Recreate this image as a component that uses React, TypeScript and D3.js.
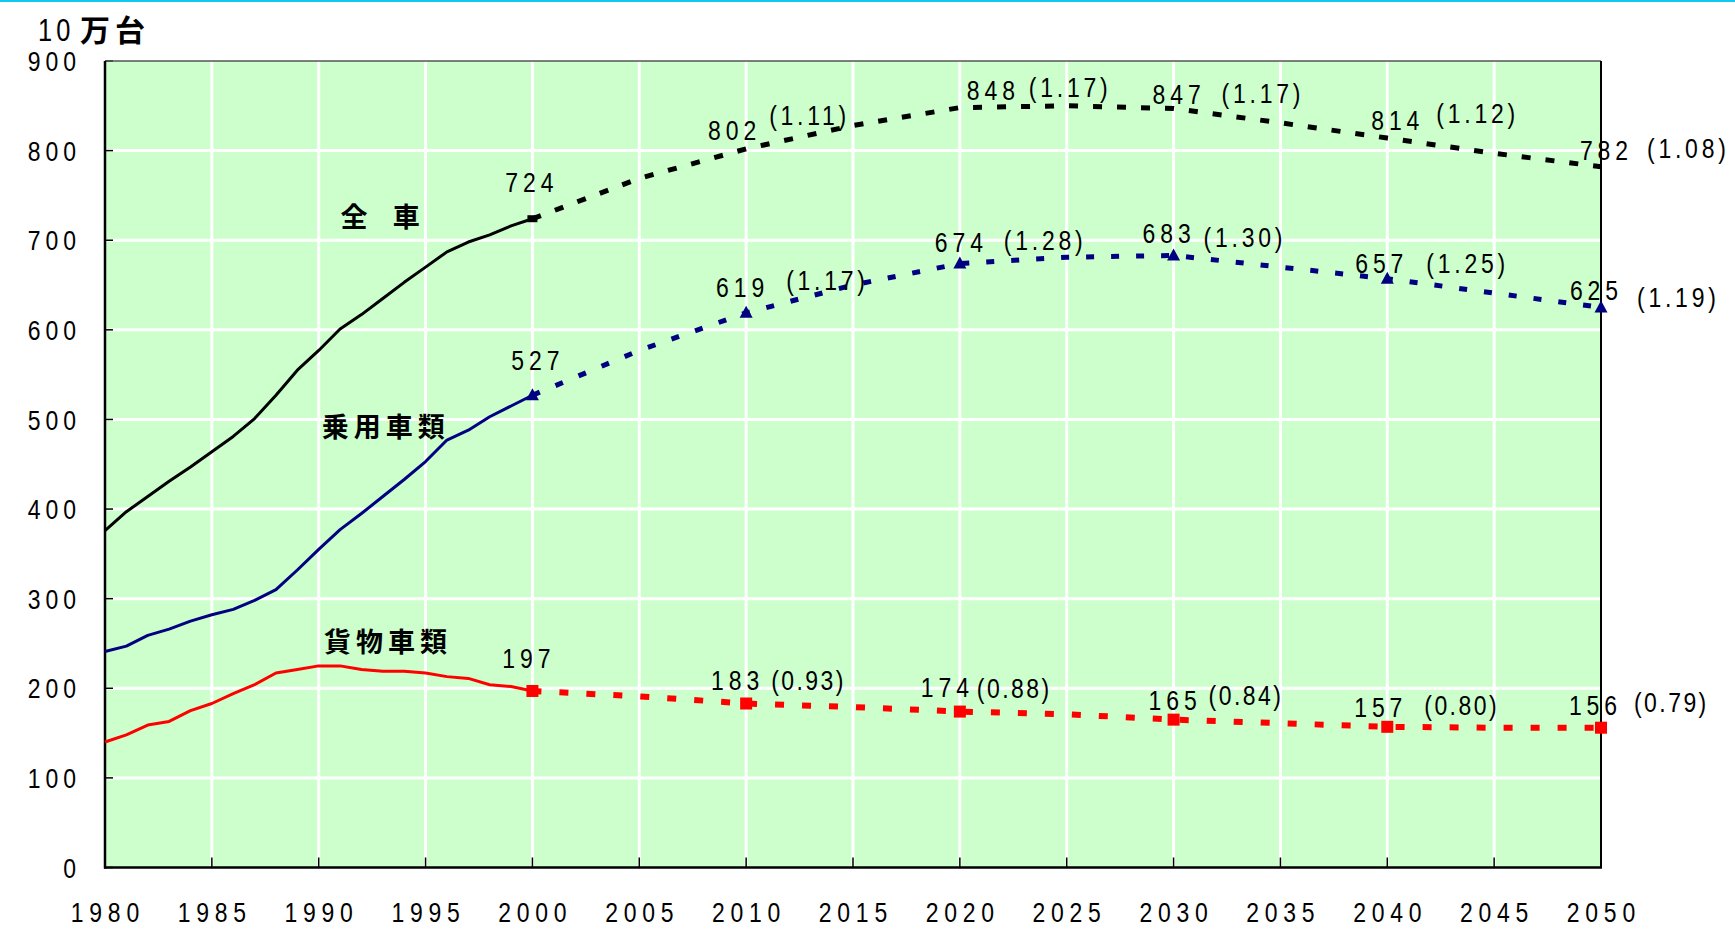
import React from 'react';
import * as d3 from 'd3';

// history (annual) 1980-2000
const histYears = d3.range(1980, 2001);
const totalHist = [376, 397, 414, 431, 447, 464, 481, 501, 527, 555, 577, 601, 617, 635, 653, 670, 687, 698, 706, 716, 724];
const passHist = [241, 247, 259, 266, 275, 282, 288, 298, 310, 332, 355, 377, 395, 414, 433, 453, 477, 488, 503, 515, 527];
const freightHist = [140, 148, 159, 163, 175, 183, 194, 204, 217, 221, 225, 225, 221, 219, 219, 217, 213, 211, 204, 202, 197];

// forecast 2000-2050
const fcYears = [2000, 2005, 2010, 2015, 2020, 2025, 2030, 2035, 2040, 2045, 2050];
const totalFc = [724, 769, 802, 828, 848, 850, 847, 831, 814, 797, 782];
const passFc = [527, 577, 619, 650, 674, 681, 683, 670, 657, 641, 625];
const freightFc = [197, 191, 183, 179, 174, 171, 165, 161, 157, 156, 156];

// labelled points
const labelYears = [2000, 2010, 2020, 2030, 2040, 2050];
const totalRatio = ['', '(1.11)', '(1.17)', '(1.17)', '(1.12)', '(1.08)'];
const passRatio = ['', '(1.17)', '(1.28)', '(1.30)', '(1.25)', '(1.19)'];
const freightRatio = ['', '(0.93)', '(0.88)', '(0.84)', '(0.80)', '(0.79)'];

const yTicks = [0, 100, 200, 300, 400, 500, 600, 700, 800, 900];
const xTicks = d3.range(1980, 2051, 5);

// annotation nudges [numDx, numDy, ratioDx, ratioDy] relative to point
const totalNudge = [[-3, -27, 0, 0], [-14, -9, 23, -24], [31, -8, 69, -11], [3, -4, 48, -5], [8, -8, 49, -15], [3, -7, 46, -9]];
const passNudge = [[3, -25, 0, 0], [-6, -16, 40, -23], [-1, -12, 44, -14], [-7, -12, 30, -8], [-8, -6, 39, -6], [-7, -7, 36, 0]];
const freightNudge = [[-6, -23, 0, 0], [-11, -14, 25, -14], [-15, -15, 17, -14], [-1, -10, 35, -15], [-9, -10, 37, -12], [-8, -13, 33, -16]];

const W = 1735;
const H = 930;
const NUM_FONT = "'Liberation Sans', Arial, sans-serif";
const CJK_FONT = "'Noto Sans CJK JP', 'Noto Sans CJK SC', sans-serif";
const SQUEEZE = 0.82; // the original digits are condensed

const BLACK = '#000000';
const NAVY = '#000080';
const RED = '#ff0000';

type NTProps = { x: number; y: number; anchor?: 'start' | 'middle' | 'end'; ls: number; size?: number; dy?: string; children: React.ReactNode };

// condensed number text; letter-spacing trail compensated for anchors
const NT = ({ x, y, anchor = 'start', ls, size = 28, dy, children }: NTProps) => {
  const trail = ls * SQUEEZE;
  const tx = anchor === 'middle' ? x + trail / 2 : anchor === 'end' ? x + trail : x;
  return (
    <text transform={`translate(${tx},${y}) scale(${SQUEEZE},1)`} textAnchor={anchor} fontFamily={NUM_FONT} fontSize={size} letterSpacing={ls} dy={dy}>
      {children}
    </text>
  );
};

export default function App() {
  const x = d3.scaleLinear().domain([1980, 2050]).range([105, 1601]);
  const y = d3.scaleLinear().domain([0, 900]).range([867.5, 61]);

  const line = d3.line<[number, number]>().x(d => x(d[0])).y(d => y(d[1]));
  const zip = (xs: number[], vs: number[]) => xs.map((t, i) => [t, vs[i]] as [number, number]);

  const series = [
    { hist: totalHist, fc: totalFc, color: BLACK, ratio: totalRatio, nudge: totalNudge, dash: '9 15', fw: 5 },
    { hist: passHist, fc: passFc, color: NAVY, ratio: passRatio, nudge: passNudge, dash: '8 17', fw: 5 },
    { hist: freightHist, fc: freightFc, color: RED, ratio: freightRatio, nudge: freightNudge, dash: '9 18', fw: 6 },
  ];

  const valAt = (s: typeof series[0], yr: number) => s.fc[fcYears.indexOf(yr)];

  return (
    <svg width={W} height={H} style={{ position: 'absolute', left: 0, top: 0, background: '#fff' }}>
      <rect x={0} y={0} width={W} height={2} fill="#10c8f0" />

      {/* plot area */}
      <rect x={x(1980)} y={y(900)} width={x(2050) - x(1980)} height={y(0) - y(900)} fill="#ccffcc" />
      {yTicks.slice(1, -1).map(t => (
        <line key={'gy' + t} x1={x(1980)} x2={x(2050)} y1={y(t)} y2={y(t)} stroke="#fff" strokeWidth={3} />
      ))}
      {xTicks.slice(1, -1).map(t => (
        <line key={'gx' + t} x1={x(t)} x2={x(t)} y1={y(900)} y2={y(0)} stroke="#fff" strokeWidth={3} />
      ))}

      {/* ticks (inside) */}
      {yTicks.map(t => (
        <line key={'ty' + t} x1={x(1980)} x2={x(1980) + 8} y1={y(t)} y2={y(t)} stroke="#000" strokeWidth={1.5} />
      ))}
      {xTicks.map(t => (
        <line key={'tx' + t} x1={x(t)} x2={x(t)} y1={y(0)} y2={y(0) - 10} stroke="#000" strokeWidth={1.5} />
      ))}

      {/* frame */}
      <line x1={x(1980)} x2={x(2050)} y1={y(900)} y2={y(900)} stroke="#555" strokeWidth={1.5} />
      <line x1={x(2050)} x2={x(2050)} y1={y(900)} y2={y(0)} stroke="#000" strokeWidth={2} />
      <line x1={x(1980)} x2={x(1980)} y1={y(900)} y2={y(0) + 1} stroke="#000" strokeWidth={2.5} />
      <line x1={x(1980) - 1} x2={x(2050) + 1} y1={y(0)} y2={y(0)} stroke="#000" strokeWidth={2.5} />

      {/* axis labels */}
      {yTicks.map(t => (
        <NT key={'ly' + t} x={76} y={y(t)} dy="0.36em" anchor="end" ls={6}>{t}</NT>
      ))}
      {xTicks.map(t => (
        <NT key={'lx' + t} x={x(t)} y={922} anchor="middle" ls={7}>{t}</NT>
      ))}

      {/* unit */}
      <NT x={38} y={41} ls={5} size={31}>10</NT>
      <text x={80} y={41} fontFamily={CJK_FONT} fontWeight={700} fontSize={30} letterSpacing={5}>万台</text>

      {/* lines */}
      {series.map((s, i) => (
        <g key={'s' + i}>
          <path d={line(zip(histYears, s.hist)) || ''} fill="none" stroke={s.color} strokeWidth={3} strokeLinejoin="round" />
          <path d={line(zip(fcYears, s.fc)) || ''} fill="none" stroke={s.color} strokeWidth={s.fw} strokeDasharray={s.dash} />
        </g>
      ))}

      {/* markers */}
      <rect x={x(2000) - 5} y={y(724) - 3.5} width={10} height={7} fill={BLACK} />
      {labelYears.map(yr => {
        const px = x(yr);
        const py = y(valAt(series[1], yr));
        return <path key={'tri' + yr} d={`M${px},${py - 7}L${px + 6.5},${py + 5}L${px - 6.5},${py + 5}Z`} fill={NAVY} />;
      })}
      {labelYears.map(yr => (
        <rect key={'sq' + yr} x={x(yr) - 6} y={y(valAt(series[2], yr)) - 6} width={12} height={12} fill={RED} />
      ))}

      {/* value labels */}
      {series.map((s, si) =>
        labelYears.map((yr, i) => {
          const v = valAt(s, yr);
          const px = x(yr);
          const py = y(v);
          const [ndx, ndy, rdx, rdy] = s.nudge[i];
          return (
            <g key={'lab' + si + yr} fill="#000">
              <NT x={px + ndx} y={py + ndy} anchor="middle" ls={6}>{v}</NT>
              {s.ratio[i] && (
                <NT x={px + rdx} y={py + rdy} ls={si === 2 ? 3 : 4.6}>{s.ratio[i]}</NT>
              )}
            </g>
          );
        })
      )}

      {/* series names */}
      <g fontFamily={CJK_FONT} fontWeight={700} fontSize={27} textAnchor="middle">
        <text x={x(1991.65)} y={y(715)}>全</text>
        <text x={x(1994.1)} y={y(715)}>車</text>
        <text x={x(1993.0) + 3} y={y(480)} letterSpacing={5}>乗用車類</text>
        <text x={x(1993.1) + 3} y={y(240)} letterSpacing={5}>貨物車類</text>
      </g>
    </svg>
  );
}
